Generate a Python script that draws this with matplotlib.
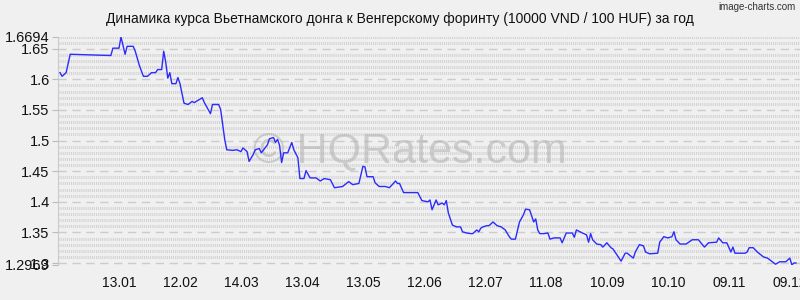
import datetime as dt

import numpy as np
import matplotlib
matplotlib.use('Agg')
import matplotlib.pyplot as plt
from matplotlib.ticker import FixedLocator, FixedFormatter

# данные: смещение в днях от начала периода и курс
start = dt.date(2012, 12, 14)
days = [1, 2, 4, 6, 26, 27, 30, 31, 33, 34, 37, 38, 40, 42, 44, 46, 48, 49,
        51, 52, 53, 54, 55, 56, 58, 59, 60, 62, 64, 66, 67, 71, 72, 75, 76,
        79, 80, 82, 83, 86, 88, 90, 91, 93, 94, 96, 97, 99, 100, 103, 104,
        106, 107, 108, 109, 110, 111, 113, 115, 116, 118, 119, 121, 122, 124,
        127, 129, 131, 134, 136, 140, 143, 145, 148, 150, 151, 152, 155, 156,
        158, 161, 163, 165, 166, 167, 168, 170, 177, 179, 182, 183, 184, 186,
        187, 189, 190, 191, 192, 194, 196, 198, 199, 201, 203, 204, 206, 207,
        208, 209, 211, 212, 214, 216, 218, 220, 222, 223, 225, 227, 229, 230,
        232, 234, 235, 236, 237, 239, 241, 242, 244, 247, 248, 250, 253, 254,
        255, 258, 260, 261, 262, 263, 265, 267, 268, 270, 272, 273, 275, 277,
        279, 280, 283, 284, 286, 288, 289, 291, 295, 296, 298, 300, 302, 303,
        304, 306, 309, 312, 315, 318, 320, 324, 325, 327, 329, 331, 332, 333,
        336, 338, 339, 340, 342, 344, 347, 349, 351, 353, 355, 358, 360, 361,
        362, 363]
rates = [1.611, 1.605, 1.611, 1.641, 1.639, 1.651, 1.651, 1.6694, 1.641,
         1.654, 1.654, 1.646, 1.623, 1.605, 1.605, 1.611, 1.611, 1.616, 1.616,
         1.646, 1.628, 1.602, 1.611, 1.593, 1.593, 1.603, 1.593, 1.561, 1.559,
         1.564, 1.562, 1.570, 1.562, 1.544, 1.559, 1.559, 1.551, 1.502, 1.485,
         1.484, 1.485, 1.482, 1.488, 1.482, 1.466, 1.477, 1.485, 1.487, 1.480,
         1.493, 1.503, 1.505, 1.497, 1.502, 1.492, 1.464, 1.480, 1.480, 1.497,
         1.485, 1.472, 1.438, 1.438, 1.451, 1.439, 1.439, 1.434, 1.438, 1.436,
         1.423, 1.425, 1.433, 1.428, 1.430, 1.458, 1.457, 1.441, 1.441, 1.431,
         1.425, 1.425, 1.423, 1.430, 1.434, 1.430, 1.430, 1.415, 1.415, 1.402,
         1.400, 1.403, 1.387, 1.403, 1.395, 1.398, 1.395, 1.402, 1.382, 1.362,
         1.359, 1.359, 1.351, 1.349, 1.348, 1.348, 1.354, 1.351, 1.357, 1.359,
         1.361, 1.361, 1.367, 1.361, 1.359, 1.354, 1.343, 1.339, 1.339, 1.367,
         1.379, 1.388, 1.387, 1.367, 1.372, 1.354, 1.348, 1.348, 1.349, 1.339,
         1.341, 1.341, 1.333, 1.349, 1.349, 1.342, 1.354, 1.349, 1.346, 1.334,
         1.348, 1.338, 1.331, 1.330, 1.326, 1.333, 1.325, 1.323, 1.313, 1.303,
         1.316, 1.316, 1.308, 1.318, 1.330, 1.328, 1.318, 1.315, 1.316, 1.334,
         1.343, 1.341, 1.343, 1.351, 1.338, 1.331, 1.331, 1.338, 1.338, 1.326,
         1.333, 1.334, 1.341, 1.333, 1.333, 1.318, 1.326, 1.316, 1.316, 1.316,
         1.318, 1.325, 1.325, 1.318, 1.310, 1.308, 1.303, 1.298, 1.302, 1.302,
         1.308, 1.2969, 1.300, 1.300]

x_ticks = ['13.01', '12.02', '14.03', '13.04', '13.05', '12.06', '12.07',
           '11.08', '10.09', '10.10', '09.11', '09.12']
y_ticks = [1.2969, 1.3, 1.35, 1.4, 1.45, 1.5, 1.55, 1.6, 1.65, 1.6694]
y_labels = ['1.2969', '1.3', '1.35', '1.4', '1.45', '1.5', '1.55', '1.6',
            '1.65', '1.6694']

title = 'Динамика курса Вьетнамского донга к Венгерскому форинту (10000 VND / 100 HUF) за год'

plt.rcParams['font.family'] = ['Liberation Sans', 'DejaVu Sans']
plt.rcParams['lines.scale_dashes'] = False

bg = '#f0f0f0'
fig = plt.figure(figsize=(8, 3), dpi=100, facecolor=bg)
ax = fig.add_axes([0.0725, 0.117, 0.9275, 0.76], facecolor=bg)

dates = [start + dt.timedelta(days=d) for d in days]
ymin, ymax = y_ticks[0], y_ticks[-1]

# сетка: пунктир на каждые 0.05, строки штрихов на каждые 0.01
for v in np.arange(1.30, 1.6601, 0.01):
    if abs(round(v * 100) % 5) < 1e-9:
        ax.axhline(v, color='#cccccc', lw=1, dashes=(6, 4), zorder=1)
    else:
        ax.axhline(v, color='#d2d2d2', lw=2.2, dashes=(0.75, 0.75), zorder=1)
ax.axhline(ymax, color='#d2d2d2', lw=2.2, dashes=(0.75, 0.75), zorder=1)

ax.plot(dates, rates, color='#2b2bff', lw=1, zorder=3)

# водяной знак
ax.text(0.474, 0.5, '© HQRates.com', transform=ax.transAxes, ha='center',
        va='center', fontsize=31, color='#b4b4b4', alpha=0.6, zorder=2)

ax.set_xlim(start, start + dt.timedelta(days=365))
ax.set_ylim(ymin, ymax)

xt = [dt.date(2013, int(s[3:]), int(s[:2])) for s in x_ticks]
ax.set_xticks(xt)
ax.set_xticklabels(x_ticks)
ax.yaxis.set_major_locator(FixedLocator(y_ticks))
ax.yaxis.set_major_formatter(FixedFormatter(y_labels))

ax.tick_params(axis='x', length=0, pad=8, labelsize=10, labelcolor='#111111')
ax.tick_params(axis='y', length=4, width=0.8, color='#bbbbbb', pad=2,
               labelsize=10.5, labelcolor='#111111')

for side in ['top', 'right', 'bottom']:
    ax.spines[side].set_visible(False)
ax.spines['left'].set_color('#c8c8c8')
ax.spines['left'].set_linestyle((0, (1, 1)))

fig.text(0.5, 0.937, title, ha='center', va='center', fontsize=10,
         color='#111111')
fig.text(0.995, 0.975, 'image-charts.com', ha='right', va='center',
         fontsize=7, color='#333333')

fig.savefig('out.png', dpi=100, facecolor=bg)
